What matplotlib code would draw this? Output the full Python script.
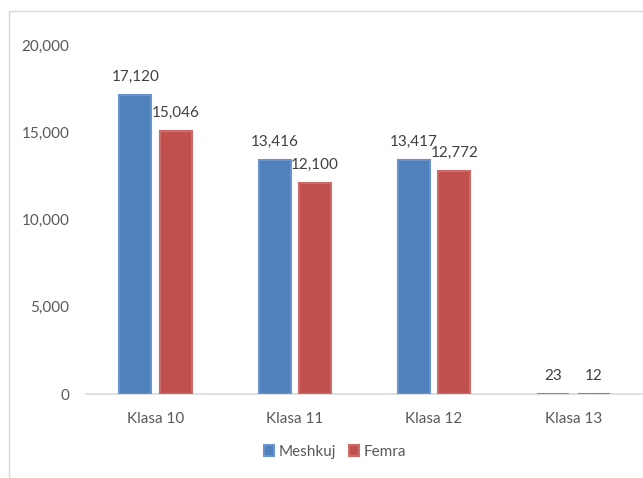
import matplotlib
matplotlib.use("Agg")
import matplotlib.pyplot as plt
from matplotlib.patches import Rectangle
import numpy as np

# data
categories = ["Klasa 10", "Klasa 11", "Klasa 12", "Klasa 13"]
meshkuj = [17120, 13416, 13417, 23]
femra = [15046, 12100, 12772, 12]
series_names = ["Meshkuj", "Femra"]
yticks = [0, 5000, 10000, 15000, 20000]

plt.rcParams['font.family'] = ['Lato', 'DejaVu Sans']

blue = "#4F81BD"
red = "#C0504D"

fig = plt.figure(figsize=(6.43, 4.78), dpi=100)
ax = fig.add_axes([0.1337, 0.1757, 0.8663, 0.7302])

x = np.arange(len(categories))
w = 0.23
off = 0.145
b1 = ax.bar(x - off, meshkuj, w, color=blue, edgecolor="#6A95CC", linewidth=1.5,
            zorder=3, label=series_names[0])
b2 = ax.bar(x + off, femra, w, color=red, edgecolor="#CC6B68", linewidth=1.5,
            zorder=3, label=series_names[1])

for bars, vals in [(b1, meshkuj), (b2, femra)]:
    for b, v in zip(bars, vals):
        ax.annotate("{:,}".format(v), xy=(b.get_x() + b.get_width() / 2, v),
                    xytext=(0, 8), textcoords="offset points",
                    ha="center", va="bottom", fontsize=11, color="#404040")

ax.set_xlim(-0.5, 3.5)
ax.set_ylim(0, 20000)
ax.set_xticks(x)
ax.set_xticklabels(categories)
ax.set_yticks(yticks)
ax.set_yticklabels(["{:,}".format(t) for t in yticks])
ax.tick_params(axis="both", length=0, labelsize=11, labelcolor="#595959")
ax.tick_params(axis="y", pad=12)
ax.tick_params(axis="x", pad=13)

for s in ["top", "right", "left"]:
    ax.spines[s].set_visible(False)
ax.spines["bottom"].set_color("#D9D9D9")
ax.spines["bottom"].set_linewidth(1.2)
ax.spines["bottom"].set_zorder(1)

fig.legend(handles=[b1, b2], loc="center", bbox_to_anchor=(0.521, 0.054), ncol=2,
           frameon=False, fontsize=11, handlelength=0.7, handleheight=0.7,
           handletextpad=0.3, columnspacing=0.8, labelcolor="#595959")

# chart area border
fig.patches.append(Rectangle((9 / 643, -0.1), 1.2, 1.1 - 11 / 478, transform=fig.transFigure,
                             fill=False, edgecolor="#D9D9D9", linewidth=1.0))

fig.savefig("out.png", dpi=100)
